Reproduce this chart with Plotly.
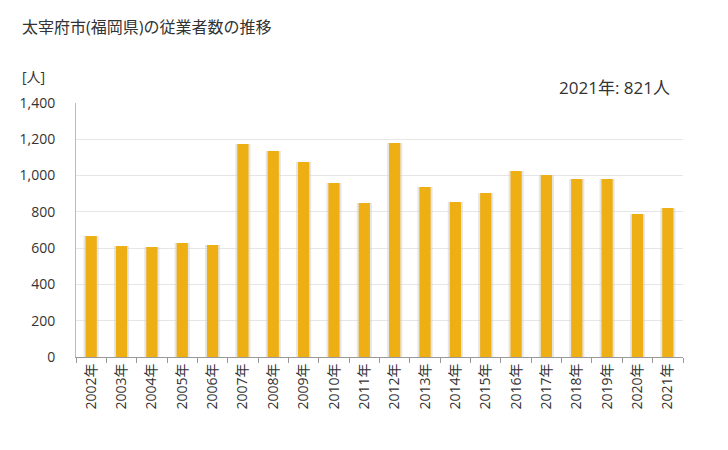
import plotly.graph_objects as go

years = [f"{y}年" for y in range(2002, 2022)]
values = [667, 612, 606, 628, 617, 1174, 1136, 1075, 959, 849, 1180, 937, 854, 904, 1025, 1003, 981, 981, 788, 821]
y_ticks = [0, 200, 400, 600, 800, 1000, 1200, 1400]
y_tick_labels = [f"{v:,}" for v in y_ticks]

FONT = "Open Sans, Noto Sans CJK JP, sans-serif"
PW, PH = 607, 254  # plot area size in px

fig = go.Figure()
fig.add_trace(go.Bar(x=years, y=values, width=0.5, marker=dict(color="rgba(205,205,205,0.5)", line=dict(width=0)),
                     hoverinfo="skip", showlegend=False))
fig.add_trace(go.Bar(x=years, y=values, width=0.37, marker=dict(color="#EEAF15", line=dict(width=0)),
                     showlegend=False))

fig.update_layout(
    width=728, height=450,
    margin=dict(l=68, r=53, t=95, b=101),
    plot_bgcolor="white", paper_bgcolor="white",
    barmode="overlay",
    font=dict(family=FONT, size=13, color="#333"),
    xaxis=dict(type="category", showgrid=False, showline=True, linecolor="#999", linewidth=1,
               ticks="outside", ticklen=5, tickcolor="#999", tickson="boundaries",
               tickangle=-90, tickfont=dict(size=14, color="#333")),
    yaxis=dict(range=[0, 1400], tickvals=y_ticks, ticktext=y_tick_labels, showgrid=True,
               gridcolor="#e6e6e6", showline=True, linecolor="#bbb", linewidth=1,
               ticks="", ticklabelstandoff=17, tickfont=dict(size=14, color="#333"),
               zeroline=False, fixedrange=True),
    annotations=[
        dict(text="太宰府市(福岡県)の従業者数の推移", xref="paper", yref="paper", x=(20 - 76) / PW, y=1 + (103 - 27) / PH,
             xanchor="left", yanchor="middle", showarrow=False, font=dict(size=16, color="#333")),
        dict(text="[人]", xref="paper", yref="paper", x=(20 - 76) / PW, y=1 + (103 - 76) / PH,
             xanchor="left", yanchor="middle", showarrow=False, font=dict(size=14, color="#333")),
        dict(text="2021年: 821人", xref="paper", yref="paper", x=(672 - 76) / PW, y=1 + (103 - 87) / PH,
             xanchor="right", yanchor="middle", showarrow=False, font=dict(size=17, color="#333")),
    ],
)
fig.write_html("out.html")
